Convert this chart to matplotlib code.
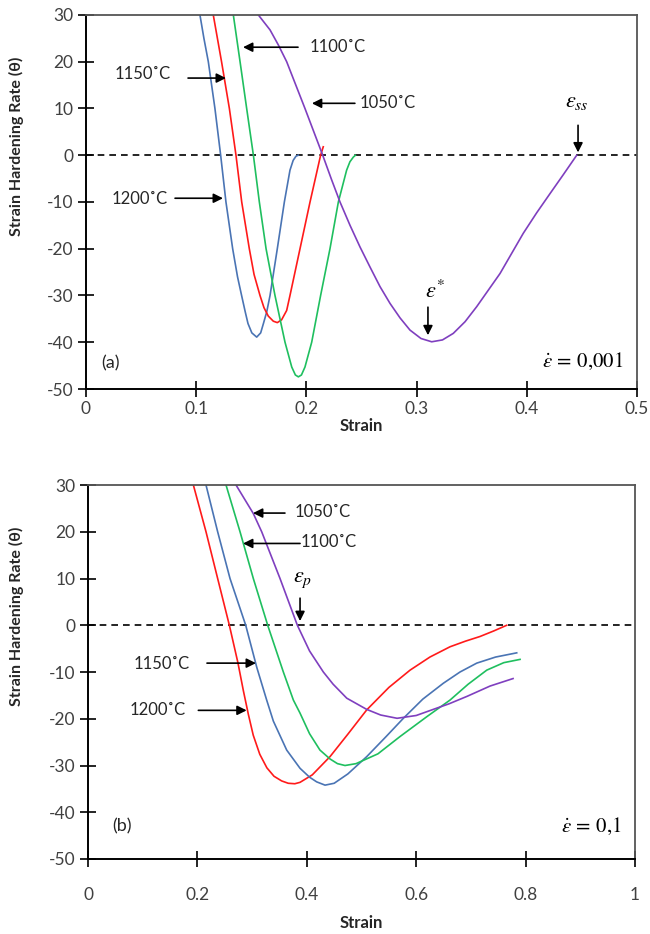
import matplotlib.pyplot as plt

plt.rcParams['font.family'] = ['Lato', 'DejaVu Sans']
plt.rcParams['mathtext.fontset'] = 'stix'
plt.rcParams['axes.unicode_minus'] = False

# (a) strain rate 0.001
a_1200_x = [0.1034, 0.107, 0.111, 0.117, 0.1222, 0.127, 0.1331, 0.1375, 0.1412, 0.1445, 0.147, 0.1505, 0.1549,
            0.1585, 0.161, 0.164, 0.167, 0.1736, 0.18, 0.1851, 0.188, 0.1906, 0.1927]
a_1200_y = [30, 25, 20, 10, 0, -10, -20, -26, -30, -33.5, -36, -38, -38.9,
            -38, -36, -33.5, -30, -20, -10, -3.2, -1.1, -0.2, 0]
a_1150_x = [0.1155, 0.123, 0.1301, 0.1361, 0.1413, 0.1482, 0.1525, 0.1579, 0.1615, 0.1654, 0.17, 0.1736,
            0.1775, 0.1821, 0.1851, 0.1942, 0.2033, 0.2129, 0.2153]
a_1150_y = [30, 20, 10, 0, -10, -20, -25.5, -30, -32.6, -34.4, -35.5, -35.8,
            -35.2, -33.2, -30, -20, -10, 0, 1.8]
a_1100_x = [0.1337, 0.1398, 0.1458, 0.1519, 0.1573, 0.1634, 0.1715, 0.1806, 0.1867, 0.19, 0.1927, 0.1955,
            0.1987, 0.2048, 0.2129, 0.2214, 0.229, 0.2365, 0.2395, 0.2426, 0.2445]
a_1100_y = [30, 20, 10, 0, -10, -20, -30, -40, -45.3, -47, -47.4, -47,
            -45.3, -40, -30, -20, -10, -3.2, -1.4, -0.4, 0]
a_1050_x = [0.1564, 0.167, 0.1745, 0.1821, 0.1987, 0.2148, 0.2228, 0.2305, 0.2396, 0.2486, 0.2577, 0.2668,
            0.2759, 0.285, 0.294, 0.304, 0.3137, 0.3235, 0.3333, 0.344, 0.3545, 0.3757, 0.3968, 0.409,
            0.4211, 0.433, 0.4453]
a_1050_y = [30, 26.8, 23.6, 20, 10, 0, -5.2, -10, -15, -19.6, -23.9, -28.1,
            -31.7, -34.8, -37.4, -39.2, -39.9, -39.5, -38.1, -35.6, -32.4, -25.3, -16.7, -12.3,
            -8.2, -4.2, 0]

# (b) strain rate 0.1
b_1200_x = [0.1926, 0.2157, 0.237, 0.2584, 0.274, 0.284, 0.293, 0.302, 0.314, 0.327, 0.34, 0.354, 0.366, 0.378,
            0.3876, 0.41, 0.4424, 0.475, 0.5095, 0.55, 0.5887, 0.625, 0.6618, 0.69, 0.7166, 0.742, 0.7654]
b_1200_y = [30, 20, 10, 0, -8, -14, -19, -23.5, -27.6, -30.5, -32.3, -33.3, -33.8, -33.9,
            -33.6, -32, -28.1, -23.3, -18.1, -13.3, -9.6, -6.8, -4.6, -3.4, -2.4, -1.2, 0]
b_1150_x = [0.2157, 0.237, 0.2596, 0.2883, 0.3085, 0.3266, 0.3388, 0.3632, 0.3876, 0.405, 0.418, 0.4333,
            0.45, 0.475, 0.5095, 0.545, 0.5765, 0.612, 0.6496, 0.68, 0.7106, 0.745, 0.7837]
b_1150_y = [30, 20, 10, 0, -9, -16, -20.5, -26.7, -30.6, -32.5, -33.5, -34.2,
            -33.8, -31.8, -28.1, -23.8, -19.9, -15.8, -12.4, -10, -8.1, -6.8, -5.9]
b_1100_x = [0.2523, 0.2779, 0.3022, 0.3285, 0.3571, 0.3754, 0.3876, 0.405, 0.424, 0.4424, 0.456, 0.4698,
            0.49, 0.53, 0.5704, 0.62, 0.6618, 0.695, 0.7289, 0.76, 0.7898]
b_1100_y = [30, 20, 10, 0, -10, -16, -18.8, -23.2, -26.7, -28.6, -29.6, -30,
            -29.6, -27.5, -23.8, -19.5, -16, -12.6, -9.6, -8, -7.3]
b_1050_x = [0.2706, 0.3022, 0.3175, 0.351, 0.3827, 0.405, 0.4302, 0.448, 0.473, 0.5095, 0.535, 0.565,
            0.6, 0.631, 0.66, 0.693, 0.735, 0.777]
b_1050_y = [30, 23.9, 20, 10, 0, -5.5, -10, -12.6, -15.6, -18, -19.2, -19.9,
            -19.3, -18, -16.8, -15.2, -13, -11.4]

temps = ['1200˚C', '1150˚C', '1100˚C', '1050˚C']
blue, red, green, purple = '#4a74b4', '#ff1a1a', '#1fbf5f', '#7f3fbf'
yticks = [-50, -40, -30, -20, -10, 0, 10, 20, 30]

fig = plt.figure(figsize=(6.5, 9.34), dpi=100)
ax1 = fig.add_axes([0.1323, 0.5835, 0.8477, 0.4005])
ax2 = fig.add_axes([0.1354, 0.0803, 0.8416, 0.4004])

for xs, ys, c in zip([a_1200_x, a_1150_x, a_1100_x, a_1050_x],
                     [a_1200_y, a_1150_y, a_1100_y, a_1050_y],
                     [blue, red, green, purple]):
    ax1.plot(xs, ys, color=c, lw=1.2)
for xs, ys, c in zip([b_1200_x, b_1150_x, b_1100_x, b_1050_x],
                     [b_1200_y, b_1150_y, b_1100_y, b_1050_y],
                     [red, blue, green, purple]):
    ax2.plot(xs, ys, color=c, lw=1.2)

for ax, xmax, xt in [(ax1, 0.5, [0, 0.1, 0.2, 0.3, 0.4, 0.5]),
                     (ax2, 1.0, [0, 0.2, 0.4, 0.6, 0.8, 1])]:
    ax.axhline(0, color='black', lw=1.2, ls=(0, (4, 3)), zorder=0)
    ax.set_xlim(0, xmax)
    ax.set_ylim(-50, 30)
    ax.set_xticks(xt)
    ax.set_xticklabels(['0' if v == 0 else ('1' if v == 1 else str(v)) for v in xt])
    ax.set_yticks(yticks)
    ax.tick_params(direction='inout', length=11, width=1.2, labelsize=12.5,
                   labelcolor='#404040', color='black')
    ax.set_ylabel('Strain Hardening Rate (θ)', fontsize=11.5, fontweight='bold', color='#262626')
    for s in ['left', 'bottom']:
        ax.spines[s].set_linewidth(1.4)
    for s in ['top', 'right']:
        ax.spines[s].set_linewidth(1.3)
        ax.spines[s].set_color('#555555')

ax1.yaxis.set_label_coords(-0.112, 0.65)
ax2.yaxis.set_label_coords(-0.117, 0.65)
ax1.tick_params(axis='x', pad=3)
ax2.tick_params(axis='x', pad=15)
ax1.set_xlabel('Strain', fontsize=12, fontweight='bold', color='#262626', labelpad=1)
ax2.set_xlabel('Strain', fontsize=12, fontweight='bold', color='#262626', labelpad=8)

arr = dict(arrowstyle='-|>', color='black', lw=1.2, mutation_scale=14, shrinkA=0, shrinkB=0)
fs = 12

# annotations (a)
ax1.annotate('', xy=(0.1425, 23.1), xytext=(0.1924, 23.1), arrowprops=arr)
ax1.text(0.2287, 23.1, temps[2], fontsize=fs, ha='center', va='center', color='#262626')
ax1.annotate('', xy=(0.127, 16.5), xytext=(0.0926, 16.5), arrowprops=arr)
ax1.text(0.0517, 17.3, temps[1], fontsize=fs, ha='center', va='center', color='#262626')
ax1.annotate('', xy=(0.205, 11.1), xytext=(0.244, 11.1), arrowprops=arr)
ax1.text(0.274, 11.1, temps[3], fontsize=fs, ha='center', va='center', color='#262626')
ax1.annotate('', xy=(0.1243, -9.2), xytext=(0.0808, -9.2), arrowprops=arr)
ax1.text(0.049, -9.4, temps[0], fontsize=fs, ha='center', va='center', color='#262626')
ax1.annotate('', xy=(0.4465, 0.6), xytext=(0.4465, 6.4), arrowprops=arr)
ax1.text(0.4456, 11.3, r'$\varepsilon_{ss}$', fontsize=16, ha='center', va='center')
ax1.annotate('', xy=(0.3103, -38.5), xytext=(0.3103, -32.5), arrowprops=arr)
ax1.text(0.3167, -29.0, r'$\varepsilon^{*}$', fontsize=16, ha='center', va='center')
ax1.text(0.0218, -44.5, '(a)', fontsize=13, ha='center', va='center', color='#262626')
ax1.text(0.4873, -44.1, r'$\dot{\varepsilon}\,=\,0{,}001$', fontsize=15, ha='right', va='center')

# annotations (b)
ax2.annotate('', xy=(0.3016, 24.0), xytext=(0.36, 24.0), arrowprops=arr)
ax2.text(0.4296, 24.2, temps[3], fontsize=fs, ha='center', va='center', color='#262626')
ax2.annotate('', xy=(0.2834, 17.5), xytext=(0.3876, 17.5), arrowprops=arr)
ax2.text(0.4406, 17.8, temps[2], fontsize=fs, ha='center', va='center', color='#262626')
ax2.annotate('', xy=(0.3876, 0.9), xytext=(0.3876, 5.8), arrowprops=arr)
ax2.text(0.393, 9.6, r'$\varepsilon_{p}$', fontsize=16, ha='center', va='center')
ax2.annotate('', xy=(0.307, -8.1), xytext=(0.2175, -8.1), arrowprops=arr)
ax2.text(0.135, -8.3, temps[1], fontsize=fs, ha='center', va='center', color='#262626')
ax2.annotate('', xy=(0.29, -18.2), xytext=(0.2017, -18.2), arrowprops=arr)
ax2.text(0.128, -18.2, temps[0], fontsize=fs, ha='center', va='center', color='#262626')
ax2.text(0.062, -43, '(b)', fontsize=13, ha='center', va='center', color='#262626')
ax2.text(0.976, -43, r'$\dot{\varepsilon}\,=\,0{,}1$', fontsize=15, ha='right', va='center')

fig.savefig('out.png', dpi=100)
